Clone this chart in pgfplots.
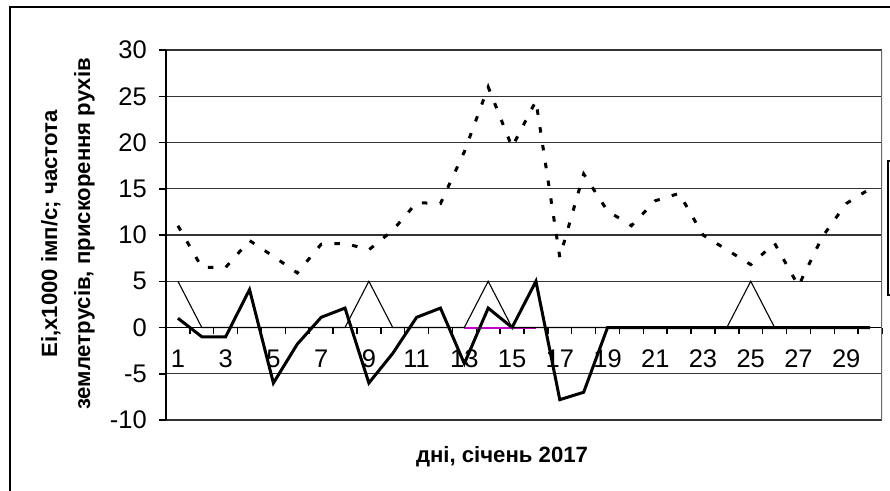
\documentclass[border=0pt]{standalone}
\usepackage{fontspec}
\setmainfont{Liberation Sans}
\usepackage{pgfplots}
\pgfplotsset{compat=1.18}
\definecolor{magline}{RGB}{204,0,204}
% image pixel -> picture coordinate (1px = 0.2mm, y counted from the top)
\newcommand\pxc[2]{({(#1)*0.2mm},{(490-(#2))*0.2mm})}

\begin{document}
\begin{tikzpicture}
\path[use as bounding box] (0,0) rectangle (178mm,98mm);
\clip (0,0) rectangle (178mm,98mm);

%% chart frame and the cut-off legend box
\draw[black, line width=0.3mm] \pxc{10}{500} -- \pxc{10}{7} -- \pxc{900}{7};
\draw[black, line width=0.3mm] \pxc{888}{161} rectangle \pxc{960}{295};

% plot area: x 166..882 px, y 50..420 px
\begin{axis}[
  at={(33.2mm,14mm)}, anchor=south west,
  scale only axis, width=143.2mm, height=74mm,
  xmin=0.5, xmax=30.5, ymin=-10, ymax=30,
  axis x line=middle, axis y line=left,
  axis line style={-, black, line width=0.3mm},
  hide obscured x ticks=false, hide obscured y ticks=false,
  tick align=outside, major tick length=1.3mm,
  tick style={black, line width=0.3mm},
  ytick={-10,-5,0,5,10,15,20,25,30},
  yticklabels={-10,-5,0,5,10,15,20,25,30},
  ymajorgrids, grid style={black!80, line width=0.25mm},
  xtick={1.5,2.5,...,30.5}, xticklabels={},
  extra x ticks={1,3,5,7,9,11,13,15,17,19,21,23,25,27,29},
  extra x tick labels={1,3,5,7,9,11,13,15,17,19,21,23,25,27,29},
  extra x tick style={major tick length=0pt,
    xticklabel style={anchor=center, yshift=-6.2mm}},
  ticklabel style={font=\fontsize{14.5}{17}\selectfont},
  yticklabel style={anchor=east, xshift=-1.3mm},
]
\draw[black!60, line width=0.3mm] (rel axis cs:1,0) -- (rel axis cs:1,1);

% magenta series, seen only where the others leave the zero line
\addplot[magline, line width=0.4mm] coordinates {(13,0)(14,0)(15,0)(16,0)};

% thin series: 0 / 5
\addplot[black, line width=0.22mm] coordinates {
  (1,5)(2,0)(3,0)(4,0)(5,0)(6,0)(7,0)(8,0)(9,5)(10,0)
  (11,0)(12,0)(13,0)(14,5)(15,0)(16,0)(17,0)(18,0)(19,0)(20,0)
  (21,0)(22,0)(23,0)(24,0)(25,5)(26,0)(27,0)(28,0)(29,0)(30,0)};

% thick solid series
\addplot[black, line width=0.6mm] coordinates {
  (1,1)(2,-1)(3,-1)(4,4.1)(5,-6)(6,-1.8)(7,1.1)(8,2.1)(9,-6)(10,-2.8)
  (11,1.1)(12,2.1)(13,-3.9)(14,2.1)(15,0)(16,5)(17,-7.8)(18,-7)(19,0)(20,0)
  (21,0)(22,0)(23,0)(24,0)(25,0)(26,0)(27,0)(28,0)(29,0)(30,0)};

% dashed series
\addplot[black, line width=0.6mm, dash pattern=on 1.1mm off 2.5mm] coordinates {
  (1,11)(2,6.5)(3,6.5)(4,9.4)(5,7.7)(6,5.9)(7,9)(8,9.1)(9,8.4)(10,10.5)
  (11,13.5)(12,13.4)(13,19)(14,26)(15,19.5)(16,24.5)(17,7.6)(18,16.6)(19,12.6)(20,11)
  (21,13.7)(22,14.5)(23,10)(24,8.4)(25,6.8)(26,9.1)(27,4.5)(28,9.8)(29,13.4)(30,15)};
\end{axis}

%% axis titles
\node[rotate=90, align=center, font=\bfseries\fontsize{12.6}{18.8}\selectfont]
  at \pxc{68}{234} {Ei,x1000 імп/с; частота\\землетрусів, прискорення рухів};
\node[font=\bfseries\fontsize{12.6}{14}\selectfont] at \pxc{502}{457} {дні, січень 2017};
\end{tikzpicture}
\end{document}
